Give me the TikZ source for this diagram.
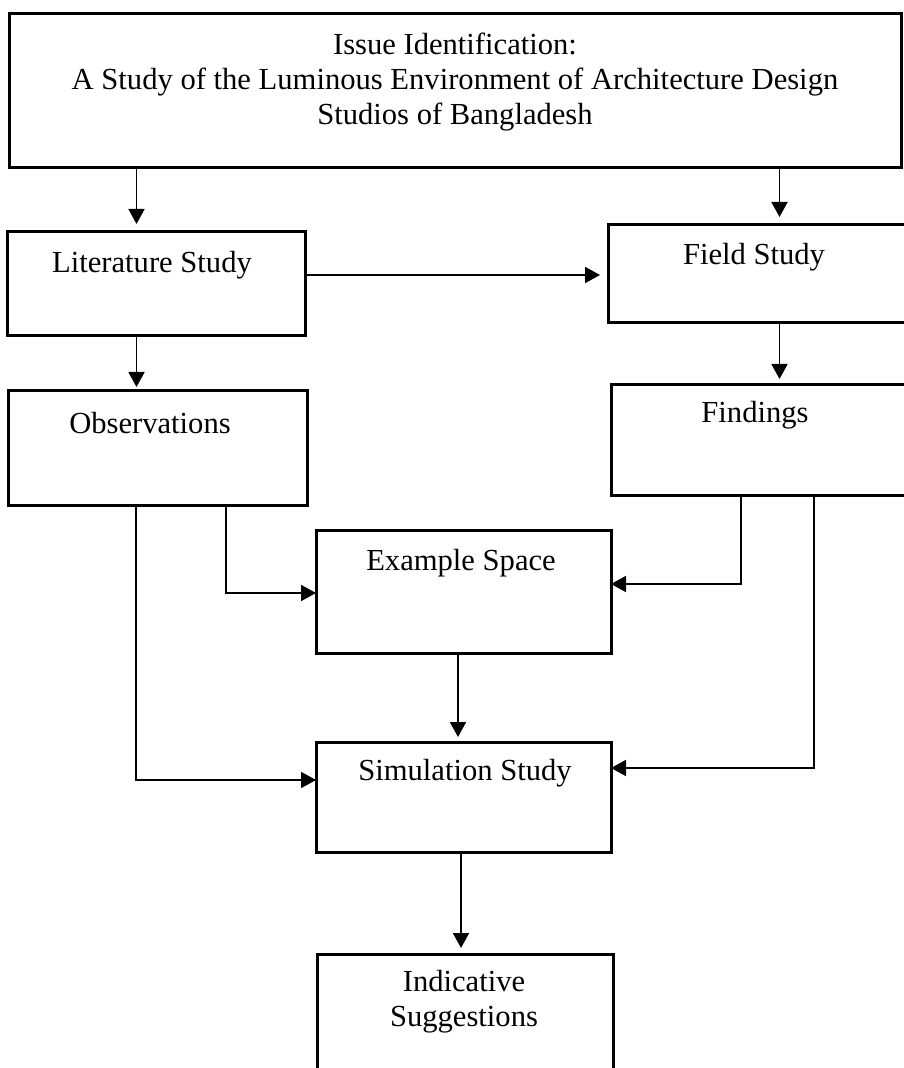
\documentclass[tikz,border=0pt]{standalone}
\usepackage{fontspec}
\setmainfont{Liberation Serif}
\usetikzlibrary{arrows.meta}
\begin{document}
\begin{tikzpicture}[x=0.5pt,y=-0.5pt,
  box/.style={draw,line width=1.5pt,inner sep=0pt,outer sep=0pt},
  lbl/.style={inner sep=0pt,align=center,font=\fontsize{15.3}{17.5}\selectfont},
  arr/.style={line width=0.9pt,-{Triangle[length=7.5pt,width=8pt]}},
  gap/.style={shorten >=4pt}]
\useasboundingbox (0,0) rectangle (903,1068);
% boxes
\node[box,minimum width=446pt,minimum height=77pt] (top) at (455,91) {};
\node[box,minimum width=149pt,minimum height=52pt] (lit) at (156,284) {};
\node[box,minimum width=149pt,minimum height=49pt] (field) at (757,274) {};
\node[box,minimum width=149.5pt,minimum height=57pt] (obs) at (157.5,448) {};
\node[box,minimum width=147.5pt,minimum height=55pt] (find) at (758.5,440) {};
\node[box,minimum width=147.5pt,minimum height=61.5pt] (ex) at (463.5,591.5) {};
\node[box,minimum width=147.5pt,minimum height=55pt] (sim) at (463.5,797) {};
\node[box,minimum width=148pt,minimum height=60.5pt] (ind) at (465,1014.5) {};
% labels
\node[lbl] (topt) at (455,82) {Issue Identification:\\A Study of the Luminous Environment of Architecture Design\\Studios of Bangladesh};
\node[lbl] (litt) at (152,265) {Literature Study};
\node[lbl] (fieldt) at (754,257) {Field Study};
\node[lbl] (obst) at (150,423) {Observations};
\node[lbl] (findt) at (755,415) {Findings};
\node[lbl] (ext) at (461,563) {Example Space};
\node[lbl] (simt) at (465,773) {Simulation Study};
\node[lbl] (indt) at (464,1002) {Indicative\\Suggestions};
% routing coordinates
\coordinate (cL) at (136.5,0);
\coordinate (cR) at (779.5,0);
\coordinate (cLF) at (0,275);
\coordinate (cOE) at (226,593);
\coordinate (cFE) at (741,584);
\coordinate (cES) at (458,0);
\coordinate (cOS) at (136,780);
\coordinate (cFS) at (814,768);
\coordinate (cSI) at (461,0);
% connectors
\draw[arr,gap] (top.south -| cL) -- (lit.north -| cL);
\draw[arr,gap] (top.south -| cR) -- (field.north -| cR);
\draw[arr,gap] (lit.east |- cLF) -- (field.west |- cLF);
\draw[arr,shorten >=2pt] (lit.south -| cL) -- (obs.north -| cL);
\draw[arr,shorten >=3pt] (field.south -| cR) -- (find.north -| cR);
\draw[arr] (obs.south -| cOE) |- (ex.west |- cOE);
\draw[arr] (find.south -| cFE) |- (ex.east |- cFE);
\draw[arr,shorten >=2.5pt] (ex.south -| cES) -- (sim.north -| cES);
\draw[arr] (obs.south -| cOS) |- (sim.west |- cOS);
\draw[arr] (find.south -| cFS) |- (sim.east |- cFS);
\draw[arr,shorten >=3pt] (sim.south -| cSI) -- (ind.north -| cSI);
\end{tikzpicture}
\end{document}
